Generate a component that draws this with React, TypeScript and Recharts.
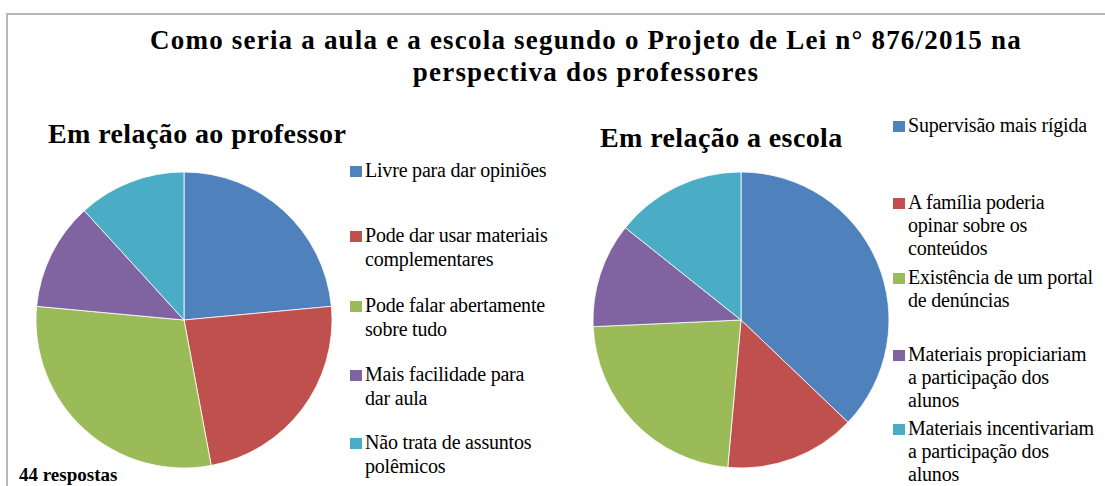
import { PieChart, Pie, Cell } from 'recharts'

const COLORS = ['#4F81BD', '#C0504D', '#9BBB59', '#8064A2', '#4BACC6']

// Em relação ao professor (44 respostas)
const professorLabels = [
  'Livre para dar opiniões',
  'Pode dar usar materiais\ncomplementares',
  'Pode falar abertamente\nsobre tudo',
  'Mais facilidade para\ndar aula',
  'Não trata de assuntos\npolêmicos'
]
const professorValues = [8, 8, 10, 4, 4]

// Em relação a escola
const escolaLabels = [
  'Supervisão mais rígida',
  'A família poderia\nopinar sobre os\nconteúdos',
  'Existência de um portal\nde denúncias',
  'Materiais propiciariam\na participação dos\nalunos',
  'Materiais incentivariam\na participação dos\nalunos'
]
const escolaValues = [13, 5, 8, 4, 5]

const professorData = professorLabels.map((name, i) => ({ name, value: professorValues[i] }))
const escolaData = escolaLabels.map((name, i) => ({ name, value: escolaValues[i] }))

const serif = "'Liberation Serif'"

// top of each legend entry (px)
const leftLegendTops = [159, 224, 294, 363, 431]
const rightLegendTops = [114, 191, 266, 343, 417]

function LegendBlock({ labels, tops, left, lineHeight }: { labels: string[]; tops: number[]; left: number; lineHeight: number }) {
  return (
    <>
      {labels.map((label, i) => (
        <div
          key={label}
          style={{
            position: 'absolute',
            left,
            top: tops[i],
            fontFamily: serif,
            fontSize: 20,
            lineHeight: `${lineHeight}px`,
            letterSpacing: -0.2,
            color: '#000',
            whiteSpace: 'pre',
            display: 'flex'
          }}
        >
          <span style={{ width: 12, height: 11, marginTop: 7, marginRight: 3, background: COLORS[i], flex: 'none' }} />
          <span>{label}</span>
        </div>
      ))}
    </>
  )
}

export default function App() {
  return (
    <div style={{ position: 'absolute', left: 0, top: 0, width: 1105, height: 486, background: '#fff', overflow: 'hidden', fontFamily: serif }}>
      <div style={{ position: 'absolute', left: 6, top: 13, width: 1110, height: 500, borderTop: '2px solid #b8b8b8', borderLeft: '2px solid #b8b8b8' }} />
      <div style={{ position: 'absolute', left: 50, top: 24, width: 1072, textAlign: 'center', fontFamily: serif, fontWeight: 'bold', fontSize: 27, lineHeight: '32px', letterSpacing: 1.2 }}>
        Como seria a aula e a escola segundo o Projeto de Lei n° 876/2015 na<br />perspectiva dos professores
      </div>
      <div style={{ position: 'absolute', left: 48, top: 118, fontFamily: serif, fontWeight: 'bold', fontSize: 28, lineHeight: '32px', letterSpacing: 0.4 }}>Em relação ao professor</div>
      <div style={{ position: 'absolute', left: 600, top: 122, fontFamily: serif, fontWeight: 'bold', fontSize: 28, lineHeight: '32px', letterSpacing: 0.4 }}>Em relação a escola</div>
      <div style={{ position: 'absolute', left: 19, top: 464, fontFamily: serif, fontWeight: 'bold', fontSize: 19, lineHeight: '22px' }}>44 respostas</div>

      <div style={{ position: 'absolute', left: 0, top: 0 }}>
        <PieChart width={1105} height={486} margin={{ top: 0, right: 0, bottom: 0, left: 0 }}>
          <Pie
            data={professorData}
            dataKey="value"
            cx={184}
            cy={320}
            outerRadius={148}
            startAngle={90}
            endAngle={-270}
            stroke="#fff"
            strokeWidth={0.8}
            isAnimationActive={false}
          >
            {professorData.map((d, i) => <Cell key={d.name} fill={COLORS[i]} />)}
          </Pie>
          <Pie
            data={escolaData}
            dataKey="value"
            cx={741}
            cy={320}
            outerRadius={148}
            startAngle={90}
            endAngle={-270}
            stroke="#fff"
            strokeWidth={0.8}
            isAnimationActive={false}
          >
            {escolaData.map((d, i) => <Cell key={d.name} fill={COLORS[i]} />)}
          </Pie>
        </PieChart>
      </div>

      <LegendBlock labels={professorLabels} tops={leftLegendTops} left={350} lineHeight={23.6} />
      <LegendBlock labels={escolaLabels} tops={rightLegendTops} left={893} lineHeight={23} />
    </div>
  )
}
